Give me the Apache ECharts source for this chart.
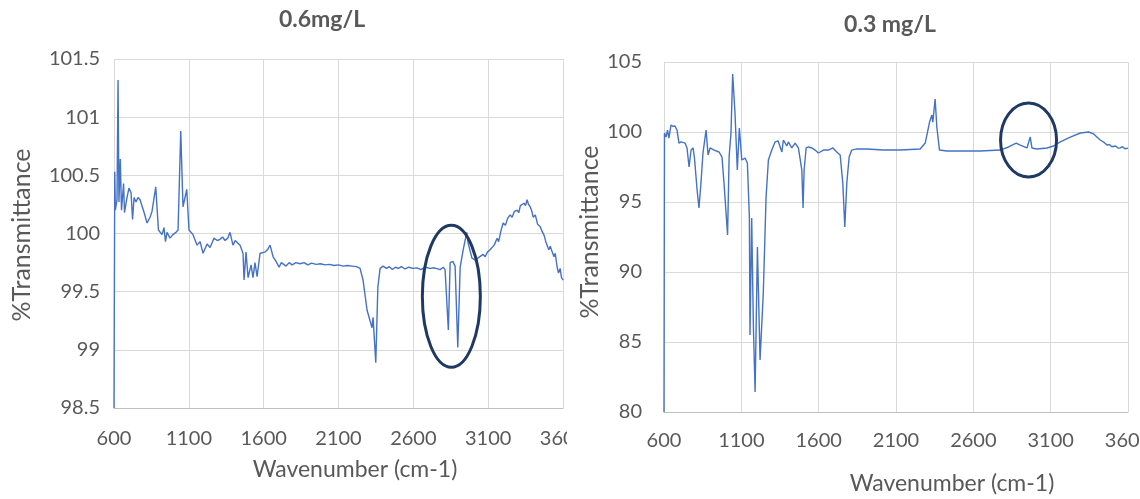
<!DOCTYPE html>
<html>
<head>
<meta charset="utf-8">
<script src="https://cdn.jsdelivr.net/npm/echarts@6/dist/echarts.min.js"></script>
<style>
html, body { margin: 0; padding: 0; background: #fff; overflow: hidden; }
.box { position: absolute; top: 0; height: 499px; overflow: hidden; }
.chart { width: 620px; height: 499px; }
</style>
</head>
<body>
<div class="box" style="left:0;width:567px;"><div id="left" class="chart"></div></div>
<div class="box" style="left:567px;width:573px;"><div id="right" class="chart"></div></div>
<script>
// tick labels
var xTicks = [600, 1100, 1600, 2100, 2600, 3100, 3600];
var yTicksLeft = [98.5, 99, 99.5, 100, 100.5, 101, 101.5];
var yTicksRight = [80, 85, 90, 95, 100, 105];

// 0.6mg/L spectrum
var waveLeft = [600, 605, 609, 620, 627, 633, 642, 650, 664, 670, 687, 700, 714, 724, 734, 747, 760, 774, 787, 801,
  821, 841, 854, 879, 897, 921, 934, 944, 954, 974, 994, 1014, 1028, 1046, 1061, 1086, 1101, 1128, 1155, 1175,
  1195, 1222, 1242, 1268, 1290, 1309, 1325, 1342, 1360, 1375, 1395, 1410, 1422, 1442, 1462, 1469, 1482, 1496, 1516, 1529,
  1542, 1556, 1576, 1609, 1625, 1643, 1663, 1683, 1703, 1718, 1730, 1750, 1770, 1790, 1816,
  1843, 1870, 1895, 1920, 1950, 1980, 2010, 2040, 2070, 2100, 2130, 2160, 2190, 2220, 2244,
  2264, 2291, 2324, 2331, 2349, 2363, 2378,
  2398, 2420, 2440, 2460, 2480, 2500, 2520, 2545, 2570, 2599, 2625, 2650, 2680, 2712, 2740, 2779, 2800, 2812,
  2824, 2834, 2846, 2864, 2879, 2897, 2913, 2933, 2957, 2966, 2991,
  3013, 3033, 3045, 3066, 3080, 3095, 3113, 3125, 3140, 3160, 3170, 3185, 3200, 3215, 3230, 3247, 3260, 3275, 3294, 3305,
  3315, 3327, 3340, 3350, 3360, 3370, 3380, 3390, 3401, 3415, 3430, 3447, 3460, 3475, 3485, 3494, 3505, 3515, 3528, 3540,
  3548, 3561, 3570, 3581, 3590, 3601];
var transLeft = [98.5, 100.53, 100.2, 100.29, 101.32, 100.27, 100.64, 100.2, 100.43, 100.18, 100.31, 100.39, 100.35, 100.12, 100.31, 100.27, 100.31, 100.29, 100.29, 100.18,
  100.09, 100.14, 100.19, 100.4, 100.03, 99.99, 100.05, 99.93, 100.01, 99.96, 99.99, 100.01, 100.03, 100.88, 100.23, 100.38, 100.03, 99.99, 99.9, 99.93,
  99.83, 99.91, 99.88, 99.96, 99.94, 99.95, 99.97, 99.94, 99.96, 100.01, 99.9, 99.94, 99.93, 99.9, 99.83, 99.6, 99.84, 99.62, 99.73, 99.62,
  99.75, 99.63, 99.83, 99.84, 99.86, 99.9, 99.8, 99.76, 99.71, 99.75, 99.75, 99.72, 99.75, 99.73, 99.75,
  99.74, 99.75, 99.73, 99.745, 99.735, 99.74, 99.73, 99.735, 99.725, 99.73, 99.72, 99.725, 99.72, 99.715, 99.7,
  99.6, 99.34, 99.19, 99.28, 98.89, 99.54, 99.7,
  99.72, 99.7, 99.715, 99.69, 99.71, 99.7, 99.715, 99.695, 99.71, 99.7, 99.705, 99.69, 99.71, 99.7, 99.705, 99.69, 99.71, 99.69,
  99.7, 99.17, 99.75, 99.76, 99.72, 99.02, 99.71, 99.86, 100.01, 99.92, 99.79,
  99.77, 99.79, 99.78, 99.82, 99.8, 99.84, 99.86, 99.85, 99.9, 99.96, 99.93, 100.02, 100.09, 100.07, 100.13, 100.16, 100.14, 100.19, 100.2, 100.18,
  100.24, 100.23, 100.26, 100.24, 100.29, 100.25, 100.23, 100.2, 100.14, 100.16, 100.08, 100.06, 100.02, 99.98, 99.93, 99.92, 99.86, 99.89, 99.84, 99.8,
  99.83, 99.71, 99.66, 99.7, 99.62, 99.6];

// 0.3 mg/L spectrum
var waveRight = [600, 603, 613, 623, 632, 645, 658, 671, 684, 697, 710, 736, 749, 762, 775, 788, 797, 814, 826, 839,
  852, 872, 885, 898, 924, 956, 975, 988, 1011, 1021, 1033, 1044, 1059, 1074, 1087, 1103, 1124, 1139, 1152, 1156,
  1167, 1178, 1189, 1204, 1221, 1242, 1260, 1275, 1297, 1318, 1338, 1362, 1372, 1394, 1404, 1426, 1448, 1469, 1491, 1499,
  1506, 1519, 1534, 1556, 1577, 1598, 1631, 1663, 1692, 1717, 1739, 1756, 1769, 1782, 1797, 1814, 1847, 1912, 2019, 2127,
  2256, 2289, 2317, 2332, 2338, 2353, 2364, 2381, 2429, 2645, 2774, 2828, 2877, 2903, 2947, 2962, 2968, 2979, 3011, 3076,
  3119, 3162, 3227, 3292, 3345, 3378, 3420, 3440, 3464, 3480, 3495, 3507, 3520, 3535, 3549, 3565, 3580, 3592, 3600];
var transRight = [80, 99.93, 99.64, 100.14, 99.57, 100.5, 100.4, 100.43, 100.14, 99.21, 99.29, 99.21, 98.86, 97.5, 98.71, 98.86, 98.14, 95.86, 94.57, 96.36,
  98.5, 100.14, 98.36, 98.86, 98.71, 98.57, 98.21, 96.36, 92.64, 98.21, 99.93, 104.14, 101.36, 97.29, 100.29, 98.0, 98.14, 97.79, 93.93, 85.5,
  93.86, 86.07, 81.43, 91.79, 83.71, 88.5, 95.36, 98.0, 98.71, 99.29, 99.36, 98.57, 99.43, 99.0, 99.29, 98.86, 99.21, 98.86, 97.29, 94.57,
  97.29, 98.86, 98.93, 98.86, 98.71, 98.5, 98.71, 98.71, 98.86, 98.57, 98.36, 96.36, 93.21, 96.36, 98.21, 98.71, 98.79, 98.79, 98.71, 98.71,
  98.79, 99.21, 100.71, 101.21, 100.71, 102.36, 100.36, 98.71, 98.64, 98.64, 98.71, 98.93, 99.21, 99.07, 98.86, 99.43, 99.64, 98.86, 98.79, 98.86,
  99.0, 99.29, 99.64, 99.93, 100.0, 99.86, 99.43, 99.3, 99.07, 99.1, 98.95, 98.93, 99.0, 98.85, 98.86, 98.95, 98.8, 98.79, 98.85];

var font = 'Lato, "Open Sans", sans-serif';
var grey = '#595959';

function zip (xs, ys) {
  let out = [];
  for (let i = 0; i < xs.length; i++) out.push([xs[i], ys[i]]);
  return out;
}

function makeChart (id, cfg) {
  var myChart = echarts.init(document.getElementById(id));
  let option = {
    animation: false,
    grid: { left: cfg.grid[0], top: cfg.grid[1], width: cfg.grid[2], height: cfg.grid[3] },
    xAxis: {
      type: 'value',
      min: xTicks[0],
      max: xTicks[xTicks.length - 1],
      interval: xTicks[1] - xTicks[0],
      axisLine: { show: true, lineStyle: { color: '#BFBFBF', width: 1 } },
      axisTick: { show: false },
      axisLabel: {
        color: grey, fontSize: 20, fontFamily: font, margin: cfg.xMargin,
        showMaxLabel: true, showMinLabel: true,
        formatter: function (v) { return String(v); }
      },
      splitLine: { show: true, lineStyle: { color: '#D9D9D9', width: 1 } }
    },
    yAxis: {
      type: 'value',
      min: cfg.yTicks[0],
      max: cfg.yTicks[cfg.yTicks.length - 1],
      interval: cfg.yTicks[1] - cfg.yTicks[0],
      axisLine: { show: false },
      axisTick: { show: false },
      axisLabel: { color: grey, fontSize: 20, fontFamily: font, margin: cfg.yMargin },
      splitLine: { show: true, lineStyle: { color: '#D9D9D9', width: 1 } }
    },
    graphic: [
      { id: 'title', type: 'text', x: cfg.title[1], y: cfg.title[2],
        style: { text: cfg.title[0], fill: grey, font: 'bold 23px ' + font, align: 'center', verticalAlign: 'middle', textAlign: 'center', textVerticalAlign: 'middle' } },
      { id: 'yname', type: 'text', x: cfg.yName[0], y: cfg.yName[1], rotation: Math.PI / 2,
        style: { text: '%Transmittance', fill: grey, font: '25px ' + font, align: 'center', verticalAlign: 'middle', textAlign: 'center', textVerticalAlign: 'middle' } },
      { id: 'xname', type: 'text', x: cfg.xName[0], y: cfg.xName[1],
        style: { text: 'Wavenumber (cm-1)', fill: grey, font: '23px ' + font, align: 'center', verticalAlign: 'middle', textAlign: 'center', textVerticalAlign: 'middle' } }
    ],
    series: [{
      type: 'line',
      data: zip(cfg.xs, cfg.ys),
      showSymbol: false,
      lineStyle: { color: '#4472C4', width: 1.4 },
      clip: true
    }]
  };
  myChart.setOption(option);

  // circle round the peaks of interest
  let c = myChart.convertToPixel({ gridIndex: 0 }, cfg.ring[0]);
  myChart.setOption({
    graphic: [{ id: 'ring', type: 'ellipse', z: 10,
      shape: { cx: c[0], cy: c[1], rx: cfg.ring[1], ry: cfg.ring[2] },
      style: { fill: 'none', stroke: '#203864', lineWidth: 3 } }]
  });
  return myChart;
}

makeChart('left', {
  grid: [114, 59, 449, 349],
  yTicks: yTicksLeft,
  xs: waveLeft,
  ys: transLeft,
  xMargin: 21,
  yMargin: 14,
  title: ['0.6mg/L', 322, 20],
  yName: [22, 235],
  xName: [355, 470],
  ring: [[2854, 99.46], 29, 71]
});

makeChart('right', {
  grid: [97, 62, 464, 350],
  yTicks: yTicksRight,
  xs: waveRight,
  ys: transRight,
  xMargin: 19,
  yMargin: 22,
  title: ['0.3 mg/L', 323, 25],
  yName: [23, 232],
  xName: [385, 484],
  ring: [[2957, 99.43], 28, 37]
});
</script>
</body>
</html>
